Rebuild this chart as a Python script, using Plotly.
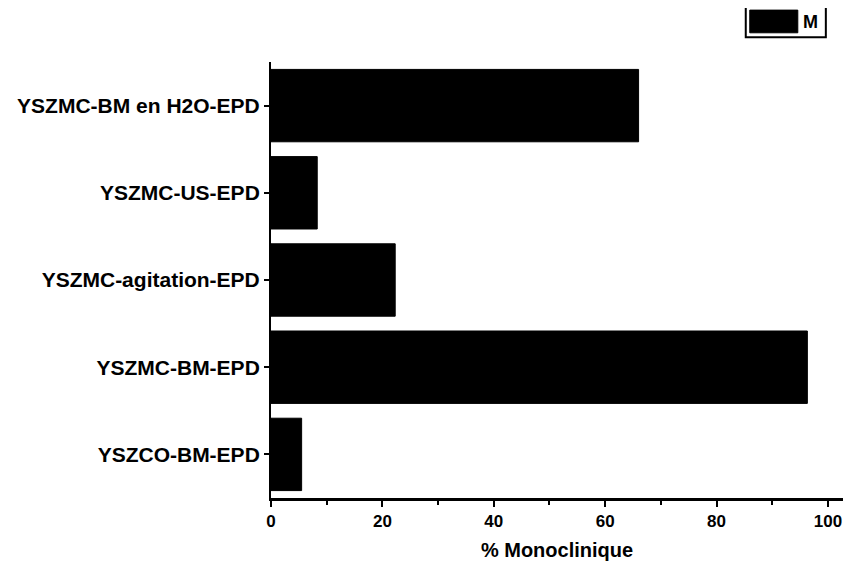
import plotly.graph_objects as go

categories = [
    "YSZMC-BM en H2O-EPD",
    "YSZMC-US-EPD",
    "YSZMC-agitation-EPD",
    "YSZMC-BM-EPD",
    "YSZCO-BM-EPD",
]
monoclinic_pct = [66.0, 8.3, 22.3, 96.3, 5.5]
series_name = "M"
x_title = "% Monoclinique"
x_ticks = [0, 20, 40, 60, 80, 100]

FONT = "Liberation Sans, Arial, sans-serif"

fig = go.Figure()
fig.add_trace(go.Bar(
    x=monoclinic_pct, y=categories, orientation="h",
    name=series_name, showlegend=False,
    marker=dict(color="black", line=dict(color="black", width=1)),
    width=0.83,
))

# boundary tick overlay axis (no labels)
boundaries = [i - 0.5 for i in range(len(categories) + 1)]

fig.update_layout(
    width=835, height=553,
    margin=dict(l=263, r=0, t=54, b=63),
    paper_bgcolor="white", plot_bgcolor="white",
    font=dict(family=FONT, color="black"),
    xaxis=dict(
        range=[0, 102.7], tickvals=x_ticks,
        ticks="outside", ticklen=6, tickwidth=2, tickcolor="black",
        showline=True, linecolor="black", linewidth=2.5,
        showgrid=False, zeroline=False,
        tickfont=dict(family=FONT, size=17, weight="bold"),
        minor=dict(dtick=10, tick0=0, ticks="outside", ticklen=4, tickwidth=2, tickcolor="black"),
        title=dict(text=x_title, font=dict(family=FONT, size=20, weight="bold"), standoff=14),
    ),
    yaxis=dict(
        type="category", categoryarray=categories, categoryorder="array",
        autorange="reversed",
        ticks="outside", ticklen=5, tickwidth=2, tickcolor="black",
        showline=True, linecolor="black", linewidth=2,
        showgrid=False, zeroline=False,
        tickfont=dict(family=FONT, size=21, weight="bold"),
    ),
    yaxis2=dict(
        overlaying="y", side="left", range=[boundaries[-1], boundaries[0]],
        tickmode="array", tickvals=boundaries, showticklabels=False,
        ticks="outside", ticklen=5, tickwidth=2, tickcolor="black",
        showline=False, showgrid=False, zeroline=False,
    ),
    bargap=0.17,
)

# manual legend box (paper coordinates)
fig.add_shape(type="rect", xref="paper", yref="paper",
              x0=0.830, x1=0.970, y0=1.057, y1=1.126,
              line=dict(color="black", width=2), fillcolor="white")
fig.add_shape(type="rect", xref="paper", yref="paper",
              x0=0.837, x1=0.921, y0=1.067, y1=1.119,
              line=dict(color="black", width=1), fillcolor="black")
fig.add_annotation(x=0.943, y=1.092, xref="paper", yref="paper",
                   xanchor="center", yanchor="middle",
                   text=series_name, showarrow=False,
                   font=dict(family=FONT, size=18, weight="bold", color="black"))

fig.write_html("out.html")
